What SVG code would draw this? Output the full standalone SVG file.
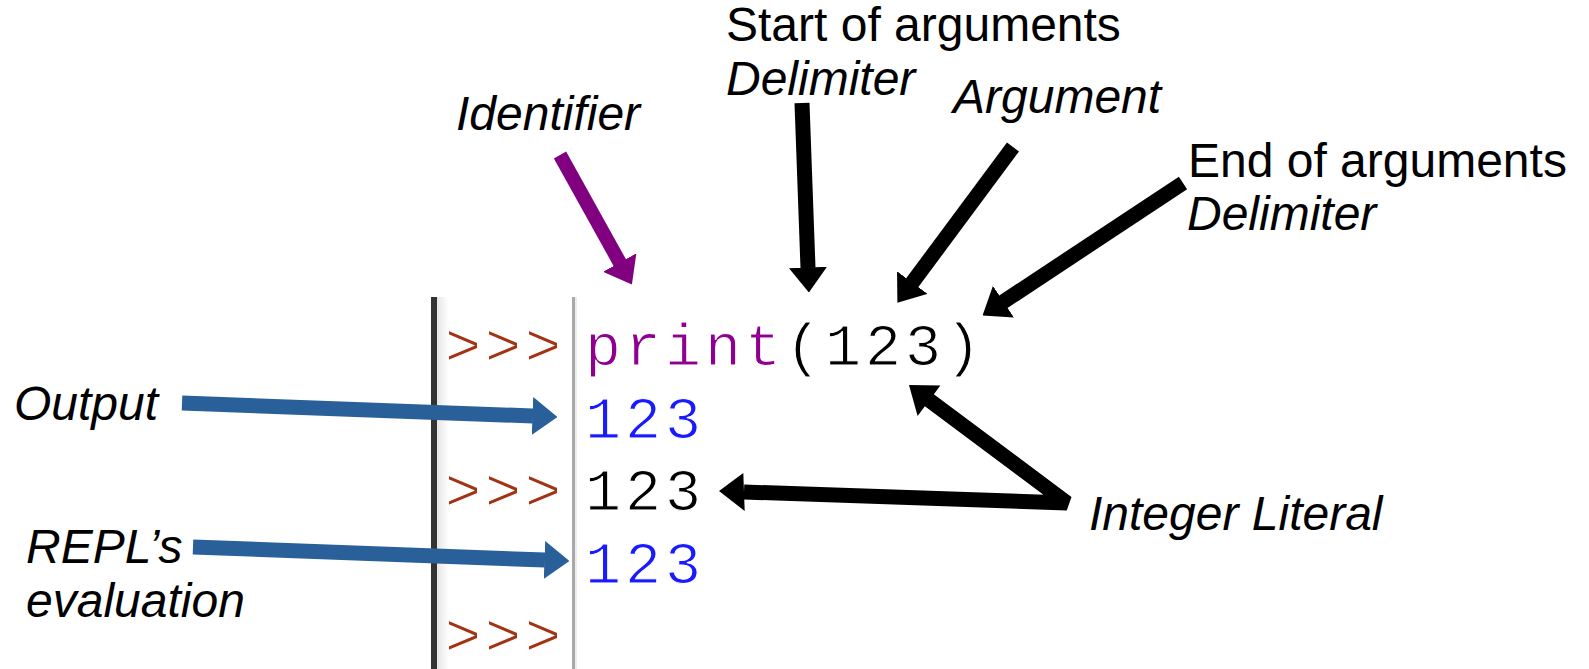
<svg xmlns="http://www.w3.org/2000/svg" width="1589" height="669" viewBox="0 0 1589 669">
  <style>
    .lbl { font-family: "Liberation Sans", Arial, sans-serif; font-size: 48px; fill: #000; }
    .it { font-style: italic; }
    .code { font-family: "Liberation Mono", "Courier New", monospace; font-size: 60px; letter-spacing: 4px; stroke: #fff; stroke-width: 1.1px; }
    .prompt { fill: #a03414; }
    .builtin { fill: #900090; }
    .plain { fill: #000; }
    .out { fill: #1a1aff; }
    .blk { stroke: #000; stroke-width: 15; fill: none; marker-end: url(#headBlack); }
    .blue { stroke: #2a6099; stroke-width: 15; fill: none; marker-end: url(#headBlue); }
    .purple { stroke: #800080; stroke-width: 14; fill: none; marker-end: url(#headPurple); }
  </style>
  <defs>
    <!-- arrowheads: 25 long, 38 wide, base sits on the line end -->
    <marker id="headBlack" viewBox="0 0 25 38" refX="0.5" refY="19" markerWidth="1.6667" markerHeight="2.5333" orient="auto" markerUnits="strokeWidth">
      <path d="M0,0 L25,19 L0,38 Z" fill="#000"/>
    </marker>
    <marker id="headBlue" viewBox="0 0 25 38" refX="0.5" refY="19" markerWidth="1.6667" markerHeight="2.5333" orient="auto" markerUnits="strokeWidth">
      <path d="M0,0 L25,19 L0,38 Z" fill="#2a6099"/>
    </marker>
    <marker id="headPurple" viewBox="0 0 25 38" refX="0.5" refY="19" markerWidth="1.7857" markerHeight="2.7143" orient="auto" markerUnits="strokeWidth">
      <path d="M0,0 L25,19 L0,38 Z" fill="#800080"/>
    </marker>
    <linearGradient id="gutterShade" x1="0" y1="0" x2="1" y2="0">
      <stop offset="0" stop-color="#e6e6e6"/>
      <stop offset="1" stop-color="#ffffff"/>
    </linearGradient>
  </defs>

  <rect width="1589" height="669" fill="#fff"/>

  <!-- shell window: prompt gutter and code lines -->
  <g id="shell">
    <rect x="437" y="297" width="12" height="372" fill="url(#gutterShade)"/>
    <rect x="431" y="297" width="6" height="372" fill="#333"/>
    <rect x="572" y="297" width="3" height="372" fill="#a9a9a9"/>
    <rect x="575" y="297" width="2" height="372" fill="#ececec"/>
    <text class="code prompt" x="445" y="365">&gt;&gt;&gt;</text>
    <text class="code prompt" x="445" y="510">&gt;&gt;&gt;</text>
    <text class="code prompt" x="445" y="655">&gt;&gt;&gt;</text>
    <text class="code" x="585" y="365"><tspan class="builtin">print</tspan><tspan class="plain">(123)</tspan></text>
    <text class="code out" x="585" y="437.5">123</text>
    <text class="code plain" x="585" y="510">123</text>
    <text class="code out" x="585" y="582.5">123</text>
  </g>

  <g id="label-start">
    <text class="lbl" x="726" y="41">Start of arguments</text>
    <text class="lbl it" x="726" y="95">Delimiter</text>
  </g>
  <g id="label-identifier">
    <text class="lbl it" x="456" y="130">Identifier</text>
  </g>
  <g id="label-argument">
    <text class="lbl it" x="953" y="113">Argument</text>
  </g>
  <g id="label-end">
    <text class="lbl" x="1188" y="177">End of arguments</text>
    <text class="lbl it" x="1187" y="230">Delimiter</text>
  </g>
  <g id="label-integer">
    <text class="lbl it" x="1089" y="530">Integer Literal</text>
  </g>
  <g id="label-output">
    <text class="lbl it" x="14" y="420">Output</text>
  </g>
  <g id="label-repl">
    <text class="lbl it" x="26" y="563">REPL’s</text>
    <text class="lbl it" x="26" y="617">evaluation</text>
  </g>

  <g id="connectors">
    <line class="purple" x1="560" y1="155" x2="620" y2="263"/>
    <line class="blk" x1="802" y1="103" x2="808" y2="268"/>
    <line class="blk" x1="1013" y1="147" x2="912" y2="283"/>
    <line class="blk" x1="1183" y1="183" x2="1003" y2="302"/>
    <!-- integer literal: one label, two pointers -->
    <polyline points="929,400 1067,503 744,492" stroke="#000" stroke-width="15" fill="none" stroke-linejoin="bevel"/>
    <polygon points="909,385 917.6,416.1 940.4,385.6" fill="#000"/>
    <polygon points="719,491 743.3,473 744.7,511" fill="#000"/>
    <line class="blue" x1="182" y1="403" x2="533" y2="416"/>
    <line class="blue" x1="193" y1="547" x2="545" y2="560"/>
  </g>
</svg>
